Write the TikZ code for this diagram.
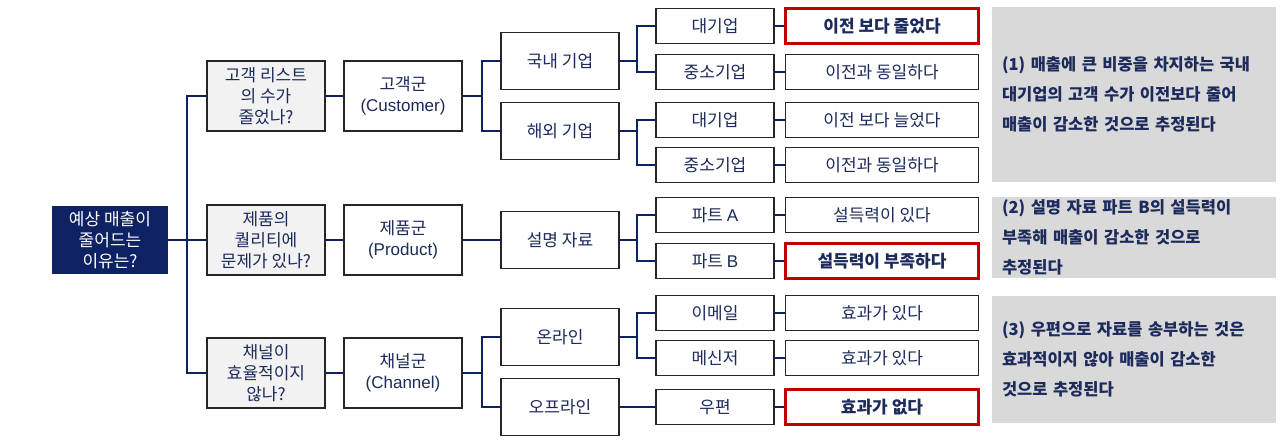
\documentclass[tikz,border=0pt]{standalone}
\usepackage{fontspec}
\setmainfont{Noto Sans CJK KR}
\newfontfamily\latin{Liberation Sans}
\definecolor{navy}{HTML}{0E2163}
\definecolor{inkblue}{HTML}{1C2A5C}
\definecolor{alarm}{HTML}{C00000}
\begin{document}
\begin{tikzpicture}[x=1pt,y=-1pt,
  every node/.style={inner sep=0pt, align=center, text=inkblue,
    font=\fontsize{17}{21}\selectfont},
  box/.style={draw=black!85, line width=1.4pt, fill=white},
  qbox/.style={box, fill=gray!10, minimum width=118, minimum height=70},
  gbox/.style={box, minimum width=118, minimum height=70},
  sbox/.style={box, minimum width=118, minimum height=57},
  ibox/.style={box, minimum width=118, minimum height=35},
  rbox/.style={box, minimum width=193, minimum height=35},
  hot/.style={draw=alarm, line width=2.6pt, font=\fontsize{17}{21}\selectfont\bfseries},
  note/.style={fill=gray!30, text width=264, inner xsep=10pt, align=left,
    font=\fontsize{16.5}{30}\selectfont\bfseries},
  link/.style={draw=navy, line width=1.1pt}]
\useasboundingbox (0,0) rectangle (1280,441);

% root question
\node[fill=navy, minimum width=116, minimum height=68, text=white] (root) at (110,240)
  {예상 매출이\\줄어드는\\이유는?};

% questions
\node[qbox] (q1) at (266,96) {고객 리스트\\의 수가\\줄었나?};
\node[qbox] (q2) at (266,240) {제품의\\퀄리티에\\문제가 있나?};
\node[qbox] (q3) at (266,373) {채널이\\효율적이지\\않나?};

% groups
\node[gbox] (g1) at (403,96) {고객군\\{\latin (Customer)}};
\node[gbox] (g2) at (403,240) {제품군\\{\latin (Product)}};
\node[gbox] (g3) at (403,373) {채널군\\{\latin (Channel)}};

% segments
\node[sbox] (s1) at (560,61) {국내 기업};
\node[sbox] (s2) at (560,131) {해외 기업};
\node[sbox] (s3) at (560,240) {설명 자료};
\node[sbox] (s4) at (560,337) {온라인};
\node[sbox] (s5) at (560,407) {오프라인};

% items
\node[ibox] (i1) at (715,26) {대기업};
\node[ibox] (i2) at (715,72) {중소기업};
\node[ibox] (i3) at (715,120) {대기업};
\node[ibox] (i4) at (715,165) {중소기업};
\node[ibox] (i5) at (715,215) {파트 {\latin A}};
\node[ibox] (i6) at (715,261) {파트 {\latin B}};
\node[ibox] (i7) at (715,313) {이메일};
\node[ibox] (i8) at (715,358) {메신저};
\node[ibox] (i9) at (715,407) {우편};

% results
\node[rbox, hot] (r1) at (882,26) {이전 보다 줄었다};
\node[rbox] (r2) at (882,72) {이전과 동일하다};
\node[rbox] (r3) at (882,120) {이전 보다 늘었다};
\node[rbox] (r4) at (882,165) {이전과 동일하다};
\node[rbox] (r5) at (882,215) {설득력이 있다};
\node[rbox, hot] (r6) at (882,261) {설득력이 부족하다};
\node[rbox] (r7) at (882,313) {효과가 있다};
\node[rbox] (r8) at (882,358) {효과가 있다};
\node[rbox, hot] (r9) at (882,407) {효과가 없다};

% notes
\node[note, minimum height=175] (n1) at (1134,94.5)
  {(1) 매출에 큰 비중을 차지하는 국내\\대기업의 고객 수가 이전보다 줄어\\매출이 감소한 것으로 추정된다};
\node[note, minimum height=81] (n2) at (1134,237.5)
  {(2) 설명 자료 파트 B의 설득력이\\부족해 매출이 감소한 것으로\\추정된다};
\node[note, minimum height=127] (n3) at (1134,359.5)
  {(3) 우편으로 자료를 송부하는 것은\\효과적이지 않아 매출이 감소한\\것으로 추정된다};

% junctions
\coordinate (j0) at (187,240);
\coordinate (j1) at (482,96);
\coordinate (j3) at (482,373);
\coordinate (k1) at (637,61);
\coordinate (k2) at (637,131);
\coordinate (k3) at (637,240);
\coordinate (k4) at (637,337);

% tree lines
\draw[link] (root) -- (q2);
\draw[link] (q1.west) -| (j0) |- (q3.west);
\draw[link] (q1) -- (g1);
\draw[link] (q2) -- (g2);
\draw[link] (q3) -- (g3);
\draw[link] (g1) -- (j1);
\draw[link] (s1.west) -| (j1) |- (s2.west);
\draw[link] (g2) -- (s3);
\draw[link] (g3) -- (j3);
\draw[link] (s4.west) -| (j3) |- (s5.west);
\draw[link] (s1) -- (k1);
\draw[link] (i1.west) -| (k1) |- (i2.west);
\draw[link] (s2) -- (k2);
\draw[link] (i3.west) -| (k2) |- (i4.west);
\draw[link] (s3) -- (k3);
\draw[link] (i5.west) -| (k3) |- (i6.west);
\draw[link] (s4) -- (k4);
\draw[link] (i7.west) -| (k4) |- (i8.west);
\draw[link] (s5) -- (i9);
\foreach \n in {1,...,9} \draw[link] (i\n) -- (r\n);
\end{tikzpicture}
\end{document}
